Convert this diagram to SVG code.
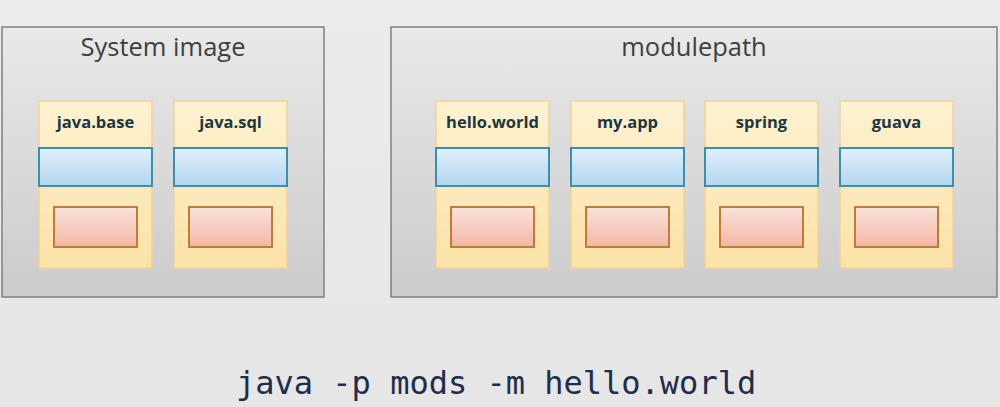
<svg xmlns="http://www.w3.org/2000/svg" width="1000" height="407" viewBox="0 0 1000 407">
<defs>
<linearGradient id="bg" x1="0" y1="0" x2="0" y2="1"><stop offset="0" stop-color="#ececec"/><stop offset="1" stop-color="#e6e6e6"/></linearGradient>
<linearGradient id="grp" x1="0" y1="0" x2="0" y2="1"><stop offset="0" stop-color="#e9e9e9"/><stop offset="1" stop-color="#cbcbcb"/></linearGradient>
<linearGradient id="mod" x1="0" y1="0" x2="0" y2="1"><stop offset="0" stop-color="#fef2d2"/><stop offset="1" stop-color="#fbe2a6"/></linearGradient>
<linearGradient id="blue" x1="0" y1="0" x2="0" y2="1"><stop offset="0" stop-color="#e2effa"/><stop offset="1" stop-color="#b2d7ef"/></linearGradient>
<linearGradient id="pink" x1="0" y1="0" x2="0" y2="1"><stop offset="0" stop-color="#fae2dc"/><stop offset="1" stop-color="#f2b7a3"/></linearGradient>
<g id="module">
<rect x="0" y="0" width="113" height="167" fill="url(#mod)" stroke="#f5cf98" stroke-width="1.5"/>
<rect x="0" y="47" width="113" height="38" fill="url(#blue)" stroke="#3b8fae" stroke-width="2"/>
<rect x="15" y="106" width="83" height="40" fill="url(#pink)" stroke="#c57a37" stroke-width="2"/>
</g>
</defs>
<style>
.grp{fill:url(#grp);stroke:#808080;stroke-width:1.5}
.title{font-family:"Open Sans","Liberation Sans",sans-serif;font-size:25.5px;fill:#3f3f3f;text-anchor:middle}
.lbl{font-family:"Open Sans","Liberation Sans",sans-serif;font-size:16.5px;font-weight:bold;fill:#1c3642;text-anchor:middle}
.cmd{font-family:"DejaVu Sans Mono",monospace;font-size:32px;fill:#1f2c4b}
</style>
<rect width="1000" height="407" fill="url(#bg)"/>
<g id="system-image">
<rect class="grp" x="2" y="27" width="322" height="270"/>
<text class="title" x="163" y="56">System image</text>
</g>
<g id="modulepath">
<rect class="grp" x="391" y="27" width="606" height="270"/>
<text class="title" x="694" y="56">modulepath</text>
</g>
<g id="java.base"><use href="#module" x="39" y="101"/><text class="lbl" x="95.5" y="128">java.base</text></g>
<g id="java.sql"><use href="#module" x="174" y="101"/><text class="lbl" x="230.5" y="128">java.sql</text></g>
<g id="hello.world"><use href="#module" x="436" y="101"/><text class="lbl" x="492.5" y="128">hello.world</text></g>
<g id="my.app"><use href="#module" x="571" y="101"/><text class="lbl" x="627.5" y="128">my.app</text></g>
<g id="spring"><use href="#module" x="705" y="101"/><text class="lbl" x="761.5" y="128">spring</text></g>
<g id="guava"><use href="#module" x="840" y="101"/><text class="lbl" x="896.5" y="128">guava</text></g>
<g id="connectors"/>
<text class="cmd" x="236" y="394">java -p mods -m hello.world</text>
</svg>
